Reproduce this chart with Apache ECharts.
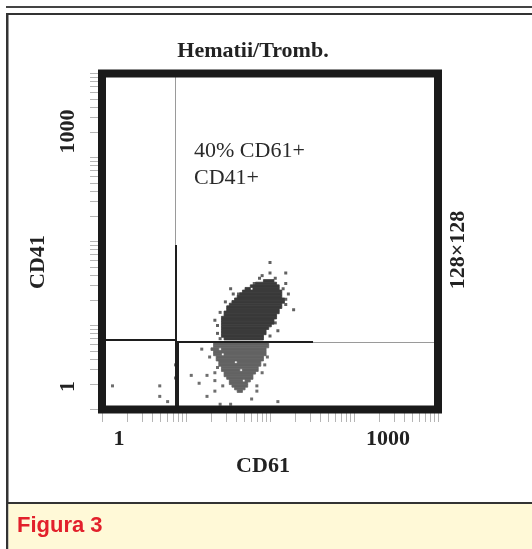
<!DOCTYPE html>
<html><head><meta charset="utf-8">
<script src="https://cdn.jsdelivr.net/npm/echarts@6/dist/echarts.min.js"></script>
<style>html,body{margin:0;padding:0;background:#fff}#c{width:532px;height:549px}</style>
</head><body><div id="c"></div>
<script>
// ---- texts ----
const chartTitle = 'Hematii/Tromb.';
const xName = 'CD61';
const yName = 'CD41';
const gateNote = ['40% CD61+', 'CD41+'];
const resolutionNote = '128×128';
const caption = 'Figura 3';

// ---- axes (log, 4 decades, 128 channels) ----
const CH_PER_DECADE = 32;
const axisMin = 1, axisMax = 10000;
const xLabelValues = [1, 1000];
const xTickLabels = ['1', '1000'];
const yLabelValues = [1, 1000];
const yTickLabels = ['1', '1000'];

// ---- data, in display channels (0..127) ----
// dense core of the dot plot: [yChannel, xStartChannel, xEndChannel]
const upperRuns = [
  [49,62,65],[48,59,66],[47,57,67],[46,55,56],[46,58,67],[45,54,68],[44,53,68],[43,52,68],
  [42,51,69],[41,50,69],[40,49,68],[39,48,68],[38,48,67],[37,47,67],[36,47,66],[35,46,66],
  [34,46,65],[33,46,65],[32,46,64],[31,46,63],[30,46,62],[29,46,62],[28,46,61],[27,47,61]
];
const lowerRuns = [
  [25,43,63],[24,43,63],[23,42,44],[23,46,62],[22,43,62],[21,43,45],[21,47,62],[20,44,61],
  [19,44,61],[18,45,50],[18,52,60],[17,45,60],[16,46,59],[15,46,52],[15,54,59],[14,47,58],
  [13,47,57],[12,48,57],[11,49,53],[11,55,56],[10,49,55],[9,50,55],[8,51,54],[7,52,53]
];
// isolated events: [xChannel, yChannel]
const upperDots = [
  [64,56],[64,52],[70,52],[60,50],[58,48],[70,48],[49,46],[52,44],[73,38],[43,34],
  [67,30],[45,27],[44,32],[44,29],[71,44],[70,40],[50,44],[47,41],[45,37],[61,51],
  [66,50],[69,46],[70,42],[66,33],[64,28]
];
const lowerDots = [
  [34,13],[37,10],[40,13],[43,14],[43,11],[43,7],[40,5],[46,9],[45,2],[49,2],[57,4],
  [67,3],[59,9],[59,7],[38,23],[61,14],[28,17],[28,12],[4,9],[22,9],[22,5],[25,3],
  [41,20],[63,20],[62,17],[44,16]
];
// quadrant gate segments, in channels
const gateThin = [
  [[28.0,62.7],[28.0,128]],
  [[80.4,25.7],[128,25.7]]
];
const gateThick = [
  [[28.0,0],[28.0,62.7]],
  [[0,26.7],[28.0,26.7]],
  [[28.0,25.7],[80.4,25.7]],
  [[29.0,0],[29.0,25.7]]
];

const ch2val = c => Math.pow(10, c / CH_PER_DECADE);
const minorTicks = [];
for (let d = 0; d < 4; d++) for (let m = 1; m <= 9; m++) minorTicks.push(m * Math.pow(10, d));
minorTicks.push(10000);

const SERIF = '"Liberation Serif","Times New Roman",serif';
const SANS = '"Liberation Sans",Arial,sans-serif';

function runSeries(runs, color) {
  return {
    type: 'custom', coordinateSystem: 'cartesian2d', silent: true,
    data: runs.map(r => [ch2val(r[1]), ch2val(r[0]), ch2val(r[2])]),
    encode: { x: [0, 2], y: 1 },
    renderItem: (params, api) => {
      const r = runs[params.dataIndex];
      const p0 = api.coord([ch2val(r[1] - 0.5), ch2val(r[0] + 0.5)]);
      const p1 = api.coord([ch2val(r[2] + 0.5), ch2val(r[0] - 0.5)]);
      return { type: 'rect', shape: { x: p0[0], y: p0[1], width: p1[0] - p0[0], height: p1[1] - p0[1] },
        style: { fill: color, stroke: color, lineWidth: 0.8 } };
    }
  };
}
function dotSeries(dots, color) {
  return { type: 'scatter', symbol: 'rect', symbolSize: 3, silent: true,
    data: dots.map(d => [ch2val(d[0]), ch2val(d[1])]), itemStyle: { color: color } };
}
function gateSeries(segs, color, width) {
  return { type: 'lines', coordinateSystem: 'cartesian2d', silent: true, z: 5,
    data: segs.map(s => ({ coords: s.map(p => [ch2val(p[0]), ch2val(p[1])]) })),
    lineStyle: { color: color, width: width, opacity: 1 } };
}

const labelFont = { fontFamily: SERIF, fontSize: 22, fontWeight: 'bold', color: '#222' };
const chart = echarts.init(document.getElementById('c'));
chart.setOption({
  animation: false,
  backgroundColor: '#fff',
  grid: { left: 102, top: 73.5, width: 336, height: 336 },
  xAxis: {
    type: 'log', logBase: 10, min: axisMin, max: axisMax, offset: 3.5,
    name: xName, nameLocation: 'middle', nameGap: 42,
    nameTextStyle: Object.assign({ padding: [0, 14, 0, 0] }, labelFont),
    axisLine: { show: false }, splitLine: { show: false },
    axisTick: { customValues: minorTicks, length: 9, lineStyle: { color: '#b5b5b5', width: 1 } },
    axisLabel: {
      customValues: xLabelValues, margin: 15,
      formatter: v => { const i = xLabelValues.indexOf(Math.round(v)); return '{p' + i + '|' + xTickLabels[i] + '}'; },
      rich: { p0: Object.assign({ padding: [0, 0, 0, 34] }, labelFont), p1: Object.assign({ padding: [0, 0, 0, 68] }, labelFont) }
    }
  },
  yAxis: {
    type: 'log', logBase: 10, min: axisMin, max: axisMax, offset: 4,
    name: yName, nameLocation: 'middle', nameGap: 45,
    nameTextStyle: Object.assign({ padding: [0, 41, 0, 0] }, labelFont),
    axisLine: { show: false }, splitLine: { show: false },
    axisTick: { customValues: minorTicks, length: 8, lineStyle: { color: '#b5b5b5', width: 1 } },
    axisLabel: {
      customValues: yLabelValues, rotate: 90, margin: 19,
      formatter: v => { const i = yLabelValues.indexOf(Math.round(v)); return '{p' + i + '|' + yTickLabels[i] + '}'; },
      rich: { p0: Object.assign({ padding: [0, 0, 0, 46] }, labelFont), p1: Object.assign({ padding: [0, 0, 0, 52] }, labelFont) }
    }
  },
  series: [
    gateSeries(gateThin, '#9a9a9a', 1),
    runSeries(lowerRuns, '#636363'),
    runSeries(upperRuns, '#3a3a3a'),
    dotSeries(lowerDots, '#4a4a4a'),
    dotSeries(upperDots, '#3a3a3a'),
    gateSeries(gateThick, '#1e1e1e', 2)
  ],
  graphic: [
    { type: 'rect', z: 1, silent: true, shape: { x: 6, y: 6, width: 526, height: 2 }, style: { fill: '#444' } },
    { type: 'rect', z: 1, silent: true, shape: { x: 6, y: 13, width: 526, height: 2 }, style: { fill: '#333' } },
    { type: 'rect', z: 1, silent: true, shape: { x: 6, y: 13, width: 2.5, height: 536 }, style: { fill: '#333' } },
    { type: 'rect', z: 1, silent: true, shape: { x: 8.5, y: 504, width: 524, height: 45 }, style: { fill: '#FFF9D7' } },
    { type: 'rect', z: 1, silent: true, shape: { x: 6, y: 502, width: 526, height: 2 }, style: { fill: '#333' } },
    { type: 'text', z: 2, silent: true, style: { text: caption, x: 17, y: 526, verticalAlign: 'middle', align: 'left', fill: '#E2202B', font: 'bold 22px ' + SANS } },
    { type: 'text', z: 2, silent: true, style: { text: chartTitle, x: 253, y: 51, verticalAlign: 'middle', align: 'center', fill: '#222', font: 'bold 22px ' + SERIF } },
    { type: 'text', z: 2, silent: true, style: { text: gateNote[0], x: 194, y: 151, verticalAlign: 'middle', align: 'left', fill: '#2a2a2a', font: '22px ' + SERIF } },
    { type: 'text', z: 2, silent: true, style: { text: gateNote[1], x: 194, y: 178, verticalAlign: 'middle', align: 'left', fill: '#2a2a2a', font: '22px ' + SERIF } },
    { type: 'text', z: 2, silent: true, x: 458, y: 250, rotation: Math.PI / 2, style: { text: resolutionNote, x: 0, y: 0, verticalAlign: 'middle', align: 'center', fill: '#222', font: 'bold 22px ' + SERIF } },
    { type: 'rect', z: 100, silent: true, shape: { x: 102, y: 73.5, width: 336, height: 336 }, style: { fill: null, stroke: '#1a1a1a', lineWidth: 8 } }
  ]
});
</script>
</body></html>
